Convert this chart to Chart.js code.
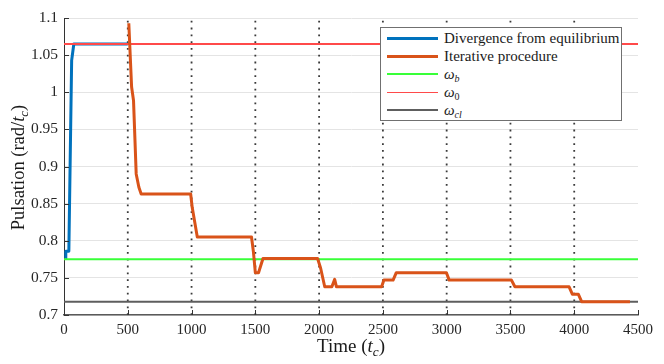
<!DOCTYPE html>
<html lang="en">
<head>
    <meta charset="UTF-8">
    <title>Pulsation vs Time</title>
    <style>
        body {
            margin: 0;
            background: #fff;
            font-family: "Liberation Serif", "DejaVu Serif", serif;
        }
        .wrap {
            position: relative;
            width: 664px;
            height: 364px;
        }
        .legend {
            position: absolute;
            left: 380px;
            top: 27px;
            width: 242px;
            height: 94px;
            border: 1px solid #707070;
            background: #fff;
            box-sizing: border-box;
        }
        .legend .row {
            position: absolute;
            left: 6px;
            height: 18px;
            display: flex;
            align-items: center;
            font-size: 15px;
            color: #1a1a1a;
            white-space: nowrap;
        }
        .legend .sample {
            width: 51px;
            margin-right: 6px;
        }
        .legend i { font-style: italic; }
        .legend sub { font-size: 10px; vertical-align: -3px; line-height: 0; }
    </style>
</head>
<body>
    <div class="wrap">
        <canvas id="chart" width="664" height="364"></canvas>
        <div class="legend" id="legend"></div>
    </div>

    <script src="https://cdn.jsdelivr.net/npm/chart.js"></script>
    <script>
        // time axis and pulsation axis
        const xTicks = [0, 500, 1000, 1500, 2000, 2500, 3000, 3500, 4000, 4500];
        const yTicks = [0.7, 0.75, 0.8, 0.85, 0.9, 0.95, 1.0, 1.05, 1.1];
        const yTickLabels = ['0.7', '0.75', '0.8', '0.85', '0.9', '0.95', '1', '1.05', '1.1'];

        // divergence from equilibrium (blue)
        const divT = [12, 14, 38, 60, 77, 500];
        const divW = [0.776, 0.786, 0.786, 1.043, 1.065, 1.065];

        // iterative procedure (orange)
        const iterT = [508, 530, 545, 566, 587, 605, 993, 1005, 1045, 1470, 1485, 1500, 1525, 1560,
                       1988, 2012, 2044, 2100, 2122, 2136, 2490, 2508, 2580, 2605, 2998, 3020,
                       3508, 3535, 3960, 3985, 4032, 4058, 4437];
        const iterW = [1.093, 1.007, 0.989, 0.890, 0.872, 0.863, 0.863, 0.845, 0.805, 0.805, 0.785, 0.757, 0.757, 0.776,
                       0.776, 0.763, 0.738, 0.738, 0.748, 0.738, 0.738, 0.747, 0.747, 0.757, 0.757, 0.747,
                       0.747, 0.738, 0.738, 0.728, 0.728, 0.718, 0.718];

        // reference pulsations
        const omegaB = 0.775;
        const omega0 = 1.065;
        const omegaCl = 0.718;

        // dotted iteration boundaries
        const iterMarks = [500, 1000, 1500, 2000, 2500, 3000, 3500, 4000];

        const serif = '"Liberation Serif", "DejaVu Serif", serif';
        const xMin = xTicks[0], xMax = xTicks[xTicks.length - 1];
        const yMin = yTicks[0], yMax = yTicks[yTicks.length - 1];

        function pts(ts, ws) {
            return ts.map((t, i) => ({ x: t, y: ws[i] }));
        }
        function hline(v) {
            return [{ x: xMin, y: v }, { x: xMax, y: v }];
        }

        const datasets = [
            {
                label: 'Divergence from equilibrium',
                legendHtml: 'Divergence from equilibrium',
                data: pts(divT, divW),
                borderColor: '#0072BD',
                borderWidth: 3,
                order: 5
            },
            {
                label: 'Iterative procedure',
                legendHtml: 'Iterative procedure',
                data: pts(iterT, iterW),
                borderColor: '#D95319',
                borderWidth: 3,
                order: 1
            },
            {
                label: 'ωb',
                legendHtml: '<i>ω</i><sub><i>b</i></sub>',
                data: hline(omegaB),
                borderColor: '#38ff38',
                borderWidth: 2,
                order: 3
            },
            {
                label: 'ω0',
                legendHtml: '<i>ω</i><sub>0</sub>',
                data: hline(omega0),
                borderColor: '#ff4a4a',
                borderWidth: 1.8,
                order: 2
            },
            {
                label: 'ωcl',
                legendHtml: '<i>ω</i><sub><i>cl</i></sub>',
                data: hline(omegaCl),
                borderColor: '#5e5e5e',
                borderWidth: 2,
                order: 4
            }
        ];

        iterMarks.forEach(m => {
            datasets.push({
                label: '',
                data: [{ x: m, y: yMin }, { x: m, y: yMax }],
                borderColor: '#3a3a3a',
                borderWidth: 1.8,
                borderDash: [1.8, 5],
                order: 6
            });
        });

        // axis titles with italic / subscript pieces
        function drawRuns(ctx, runs, size) {
            const pieces = runs.map(r => {
                const fs = r.sub ? size * 0.7 : size;
                const font = (r.italic ? 'italic ' : '') + fs + 'px ' + serif;
                ctx.font = font;
                return { t: r.t, font: font, w: ctx.measureText(r.t).width, dy: r.sub ? size * 0.22 : 0 };
            });
            const total = pieces.reduce((a, p) => a + p.w, 0);
            let x = -total / 2;
            pieces.forEach(p => {
                ctx.font = p.font;
                ctx.fillText(p.t, x, p.dy);
                x += p.w;
            });
        }

        const axisTitles = {
            id: 'axisTitles',
            afterDraw(chart) {
                const ctx = chart.ctx;
                const a = chart.chartArea;
                ctx.save();
                ctx.fillStyle = '#1a1a1a';
                ctx.textBaseline = 'alphabetic';
                ctx.textAlign = 'left';
                ctx.translate((a.left + a.right) / 2, 352);
                drawRuns(ctx, [{ t: 'Time (' }, { t: 't', italic: true }, { t: 'c', italic: true, sub: true }, { t: ')' }], 19);
                ctx.restore();

                ctx.save();
                ctx.fillStyle = '#1a1a1a';
                ctx.textBaseline = 'alphabetic';
                ctx.textAlign = 'left';
                ctx.translate(24, (a.top + a.bottom) / 2 + 1);
                ctx.rotate(-Math.PI / 2);
                drawRuns(ctx, [{ t: 'Pulsation (rad/' }, { t: 't', italic: true }, { t: 'c', italic: true, sub: true }, { t: ')' }], 18.5);
                ctx.restore();
            }
        };

        // short inward tick marks, matlab style
        const inwardTicks = {
            id: 'inwardTicks',
            afterDatasetsDraw(chart) {
                const ctx = chart.ctx;
                const a = chart.chartArea;
                const xs = chart.scales.x, ys = chart.scales.y;
                ctx.save();
                ctx.strokeStyle = '#333';
                ctx.lineWidth = 1;
                ctx.beginPath();
                xTicks.forEach(v => {
                    const px = Math.round(xs.getPixelForValue(v)) + 0.5;
                    ctx.moveTo(px, a.bottom);
                    ctx.lineTo(px, a.bottom - 5);
                });
                yTicks.forEach(v => {
                    const py = Math.round(ys.getPixelForValue(v)) + 0.5;
                    ctx.moveTo(a.left, py);
                    ctx.lineTo(a.left + 5, py);
                });
                ctx.stroke();
                ctx.restore();
            }
        };

        const chart = new Chart(document.getElementById('chart'), {
            type: 'line',
            data: { datasets: datasets },
            options: {
                responsive: false,
                animation: false,
                elements: {
                    point: { radius: 0 },
                    line: { tension: 0, borderJoinStyle: 'round', fill: false }
                },
                layout: { padding: { top: 18, right: 26, left: 0, bottom: 0 } },
                plugins: {
                    legend: { display: false },
                    tooltip: { enabled: false }
                },
                scales: {
                    x: {
                        type: 'linear',
                        min: xMin,
                        max: xMax,
                        afterBuildTicks: s => { s.ticks = xTicks.map(v => ({ value: v })); },
                        afterFit: s => { s.height = 49; },
                        grid: { display: false, drawTicks: false },
                        border: { display: true, color: '#5a5a5a', width: 1.5 },
                        ticks: {
                            padding: 6,
                            maxRotation: 0,
                            color: '#262626',
                            font: { family: serif, size: 15 },
                            callback: v => String(v)
                        }
                    },
                    y: {
                        type: 'linear',
                        min: yMin,
                        max: yMax,
                        afterBuildTicks: s => { s.ticks = yTicks.map(v => ({ value: v })); },
                        afterFit: s => { s.width = 64; },
                        grid: { color: '#e4e4e4', lineWidth: 1, drawTicks: false },
                        border: { display: true, color: '#333', width: 1 },
                        ticks: {
                            padding: 6,
                            color: '#262626',
                            font: { family: serif, size: 15.5 },
                            callback: (v, i) => yTickLabels[i]
                        }
                    }
                }
            },
            plugins: [axisTitles, inwardTicks]
        });

        // legend built from the datasets
        const legend = document.getElementById('legend');
        chart.data.datasets.filter(d => d.legendHtml).forEach((d, i) => {
            const row = document.createElement('div');
            row.className = 'row';
            row.style.top = (1 + i * 18) + 'px';
            const sample = document.createElement('span');
            sample.className = 'sample';
            sample.style.borderTop = d.borderWidth + 'px solid ' + d.borderColor;
            const text = document.createElement('span');
            text.innerHTML = d.legendHtml;
            row.appendChild(sample);
            row.appendChild(text);
            legend.appendChild(row);
        });
    </script>
</body>
</html>
